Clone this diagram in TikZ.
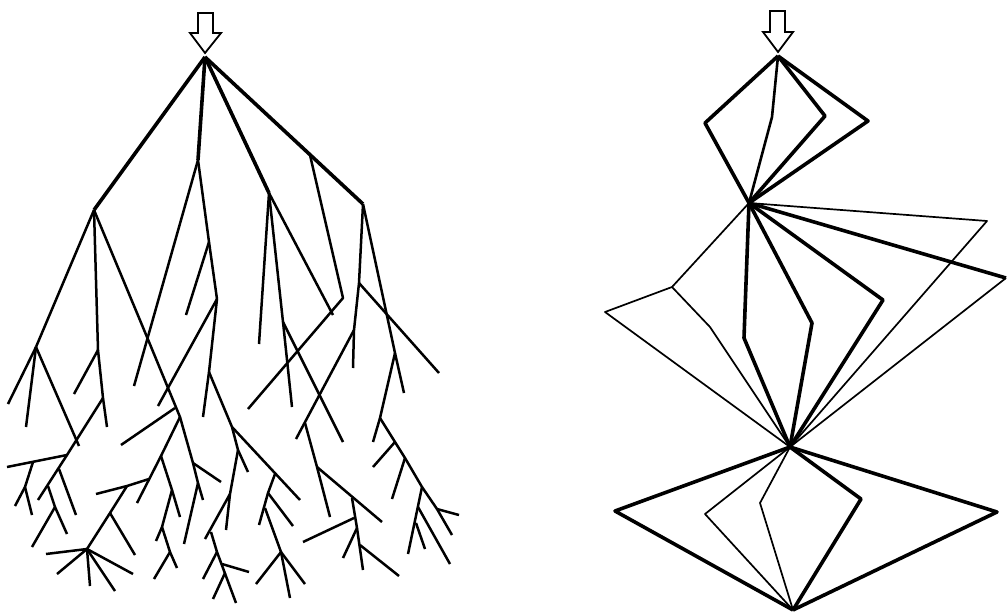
\documentclass[tikz,border=0pt]{standalone}
\begin{document}
\begin{tikzpicture}[x=1pt,y=-1pt,
  tk/.style={line width=3.6pt,line join=round},
  nm/.style={line width=2.5pt,line join=round},
  th/.style={line width=1.7pt,line join=round},
  md/.style={line width=2.6pt,line join=round},
  arr/.style={line width=1.8pt,fill=white,line join=miter}]
\useasboundingbox (0,0) rectangle (1008,615);
% ---------- left tree ----------
\coordinate (R) at (205,57);
\coordinate (B1) at (94,210);
\coordinate (S1) at (198,160);
\coordinate (N2) at (269,193);
\coordinate (N3) at (363,204);
\draw[arr] (198,13) -- (213,13) -- (213,33) -- (221,33) -- (205,53) -- (190,33) -- (198,33) -- cycle;
\draw[tk] (R) -- (B1);
\draw[tk] (R) -- (S1);
\draw[tk] (R) -- (N2);
\draw[tk] (R) -- (N3);
% S1 branch
\draw[nm] (S1) -- (134,386);
\draw[nm] (S1) -- (209,242) -- (217,299) -- (209,372) -- (203,417);
\draw[nm] (209,242) -- (186,315);
\draw[nm] (217,299) -- (158,406);
\draw[nm] (209,372) -- (232,427) -- (300,500);
\draw[nm] (232,427) -- (238,450) -- (248,472);
\draw[nm] (238,450) -- (230,494) -- (226,530);
\draw[nm] (230,494) -- (205,539);
\draw[nm] (211,532) -- (217,552) -- (236,603);
\draw[nm] (217,552) -- (203,579);
\draw[nm] (222,564) -- (249,572);
\draw[nm] (225,573) -- (213,599);
\draw[nm] (275,474) -- (268,493) -- (259,525);
\draw[nm] (268,493) -- (293,526);
\draw[nm] (265,508) -- (281,552) -- (290,598);
\draw[nm] (281,552) -- (256,584);
\draw[nm] (281,552) -- (305,584);
% N2 branch
\draw[nm] (N2) -- (259,344);
\draw[nm] (N2) -- (283,322) -- (292,407);
\draw[nm] (283,322) -- (343,442);
\draw[nm] (N2) -- (333,315);
\draw[nm] (310,155) -- (343,298) -- (248,409);
% N3 branch
\draw[nm] (N3) -- (359,283) -- (354,330) -- (353,368);
\draw[nm] (359,283) -- (439,373);
\draw[nm] (354,330) -- (296,439);
\draw[nm] (305,423) -- (317,467) -- (330,517);
\draw[nm] (317,467) -- (382,522);
\draw[nm] (352,498) -- (357,528) -- (363,570);
\draw[nm] (354,518) -- (303,542);
\draw[nm] (357,528) -- (343,558);
\draw[nm] (360,545) -- (399,576);
\draw[nm] (N3) -- (395,353) -- (404,393);
\draw[nm] (395,353) -- (380,418) -- (373,442);
\draw[nm] (380,418) -- (395,442) -- (405,458) -- (422,487) -- (437,509) -- (452,535);
\draw[nm] (395,442) -- (373,467);
\draw[nm] (405,458) -- (392,499);
\draw[nm] (422,487) -- (408,554);
\draw[nm] (418,507) -- (450,564);
\draw[nm] (416,523) -- (425,549);
\draw[nm] (437,509) -- (459,515);
% B1 branch
\draw[nm] (B1) -- (36,347);
\draw[nm] (36,347) -- (8,404);
\draw[nm] (36,347) -- (26,427);
\draw[nm] (36,347) -- (79,446);
\draw[nm] (B1) -- (98,350) -- (103,398) -- (107,427);
\draw[nm] (98,350) -- (74,394);
\draw[nm] (B1) -- (147,337) -- (180,417) -- (193,463) -- (198,483) -- (203,500);
\draw[nm] (175,408) -- (121,445);
\draw[nm] (180,417) -- (161,456) -- (137,503);
\draw[nm] (149,479) -- (127,486) -- (96,494);
\draw[nm] (127,486) -- (110,513) -- (87,549);
\draw[nm] (110,513) -- (135,555);
\draw[nm] (46,554) -- (87,549) -- (57,574);
\draw[nm] (87,549) -- (90,586);
\draw[nm] (87,549) -- (115,591);
\draw[nm] (87,549) -- (133,574);
\draw[nm] (161,456) -- (172,490) -- (180,517);
\draw[nm] (172,490) -- (162,527) -- (156,541);
\draw[nm] (162,527) -- (170,552) -- (177,568);
\draw[nm] (170,552) -- (154,579);
\draw[nm] (193,463) -- (221,482);
\draw[nm] (198,483) -- (184,544);
\draw[nm] (103,398) -- (67,455) -- (38,500);
\draw[nm] (67,455) -- (7,467);
\draw[nm] (33,462) -- (25,487) -- (15,506);
\draw[nm] (25,487) -- (32,515);
\draw[nm] (59,469) -- (76,515);
\draw[nm] (48,486) -- (55,507) -- (67,534);
\draw[nm] (55,507) -- (32,547);
% ---------- right diagram ----------
\coordinate (T) at (778,56);
\coordinate (H1) at (749,203);
\coordinate (H2) at (790,447);
\coordinate (Bt) at (793,610);
\draw[arr] (770,11) -- (785,11) -- (785,32) -- (793,32) -- (778,52) -- (763,32) -- (770,32) -- cycle;
\draw[tk] (T) -- (705,123) -- (H1);
\draw[md] (T) -- (772,117) -- (H1);
\draw[tk] (T) -- (825,116) -- (H1);
\draw[tk] (T) -- (868,121) -- (H1);
\draw[th] (H1) -- (987,221) -- (H2);
\draw[tk] (H1) -- (1006,278);
\draw[th] (1006,278) -- (H2);
\draw[tk] (H1) -- (883,300) -- (H2);
\draw[tk] (H1) -- (745,310) -- (744,338) -- (H2);
\draw[tk] (H1) -- (812,323) -- (H2);
\draw[th] (H1) -- (672,287) -- (710,327) -- (H2);
\draw[th] (672,287) -- (605,312) -- (H2);
\draw[tk] (H2) -- (615,511) -- (Bt);
\draw[th] (H2) -- (705,514) -- (Bt);
\draw[th] (H2) -- (760,503) -- (Bt);
\draw[tk] (H2) -- (861,499) -- (Bt);
\draw[tk] (H2) -- (997,512) -- (Bt);
\end{tikzpicture}
\end{document}
